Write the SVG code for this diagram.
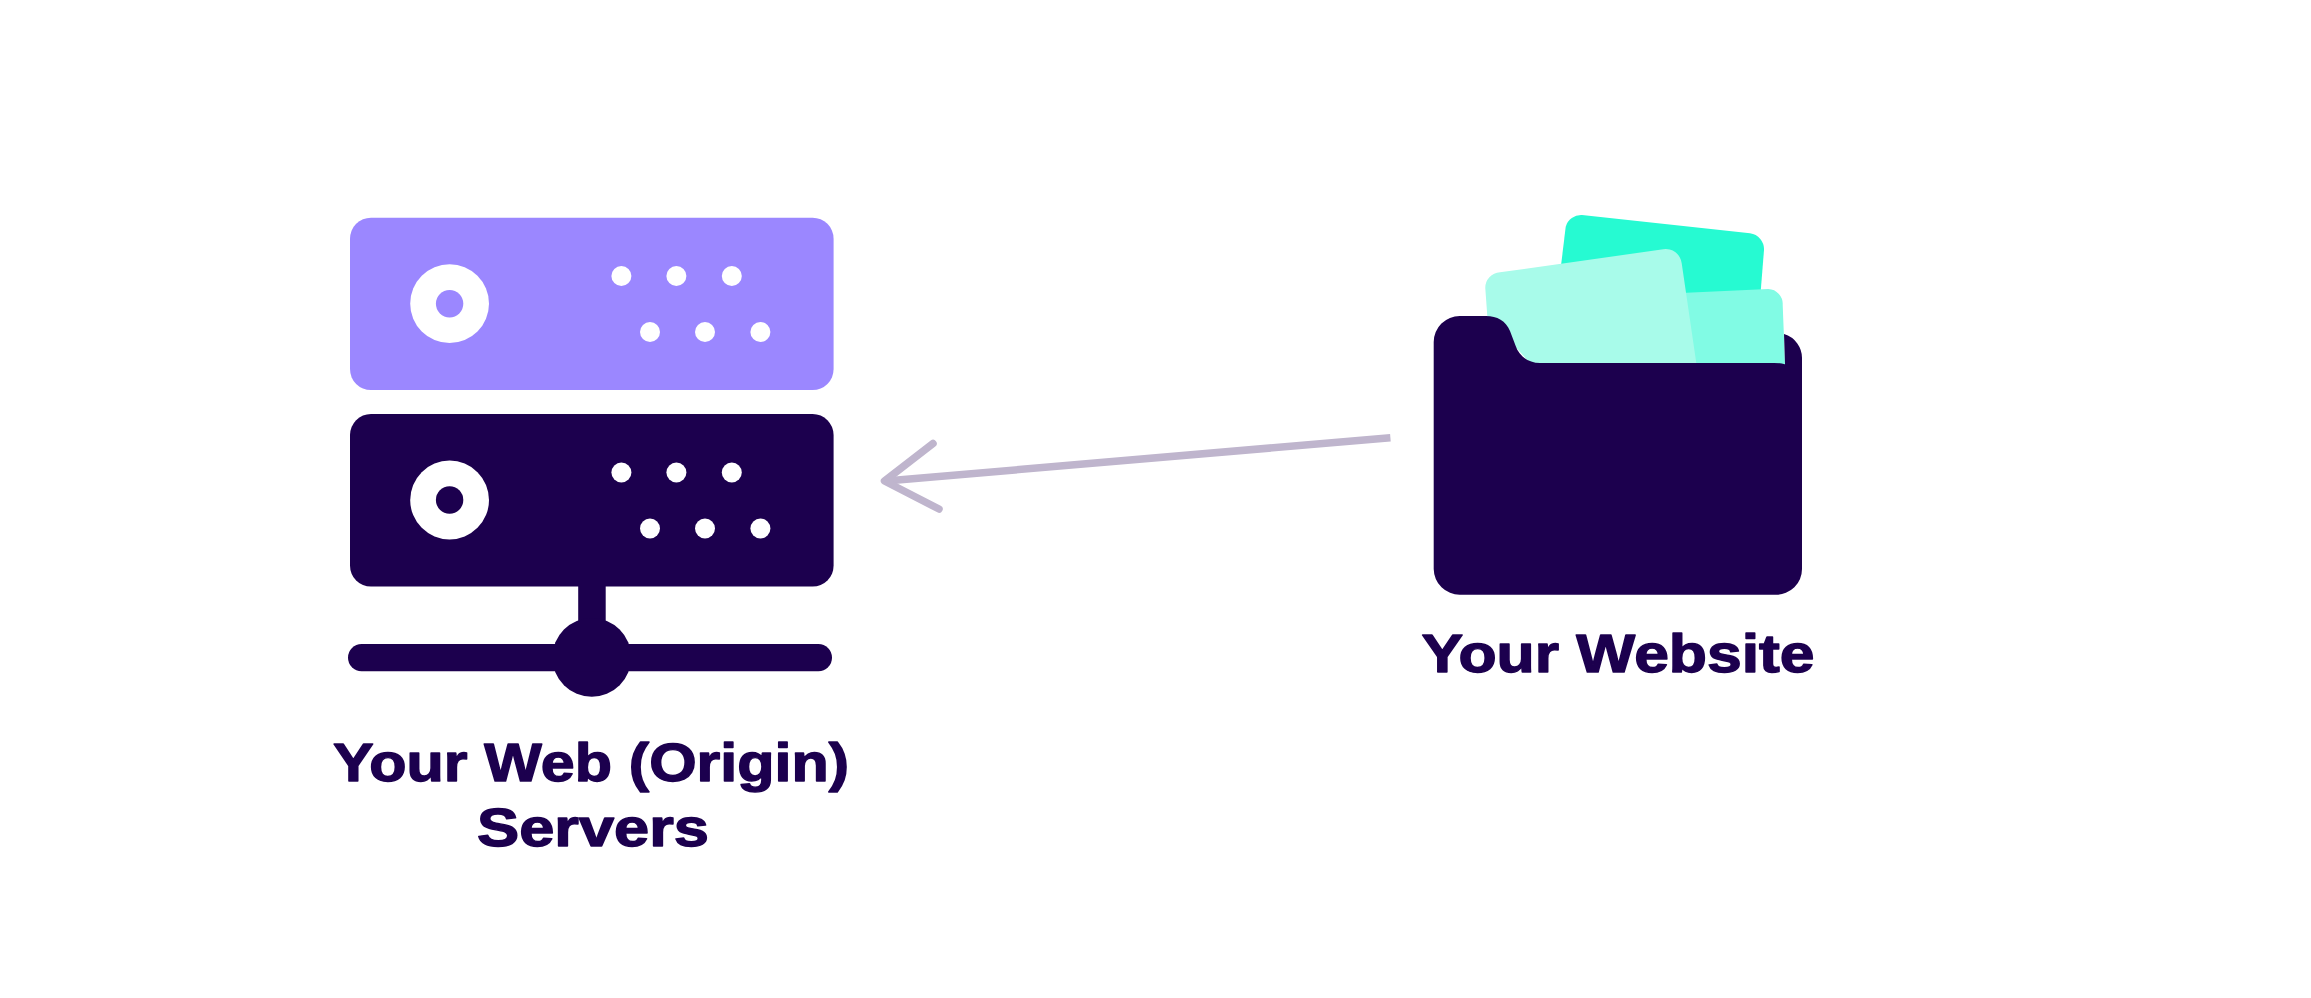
<svg xmlns="http://www.w3.org/2000/svg" width="2311" height="998" viewBox="0 0 2311 998">
<style>
.dark{fill:#1c004e}
.w{fill:#fff}
.lbl{font-family:"Liberation Sans","Arimo",sans-serif;font-weight:700;font-size:53px;fill:#1c004e;stroke:#1c004e;stroke-width:1.4px;stroke-linejoin:round}
.arrow{fill:none;stroke:#bfb5cd;stroke-width:7.5}
.head{fill:none;stroke:#bfb5cd;stroke-width:7.5;stroke-linecap:round;stroke-linejoin:round}
</style>
<defs>
<g id="dots" class="w">
<circle cx="621.4" cy="0" r="10"/><circle cx="676.4" cy="0" r="10"/><circle cx="731.8" cy="0" r="10"/>
<circle cx="650" cy="56" r="10"/><circle cx="705" cy="56" r="10"/><circle cx="760.4" cy="56" r="10"/>
</g>
</defs>
<rect width="2311" height="998" fill="#fff"/>
<g id="origin-servers">
<rect x="350" y="217.7" width="483.6" height="172.4" rx="21" fill="#9b87ff"/>
<circle cx="449.6" cy="303.7" r="39.4" class="w"/>
<circle cx="449.6" cy="303.7" r="13.7" fill="#9b87ff"/>
<use href="#dots" y="276"/>
<rect x="350" y="414" width="483.6" height="172.6" rx="21" class="dark"/>
<circle cx="449.6" cy="500" r="39.4" class="w"/>
<circle cx="449.6" cy="500" r="13.7" class="dark"/>
<use href="#dots" y="472.5"/>
<rect x="578.2" y="585" width="27.5" height="45" class="dark"/>
<circle cx="591.8" cy="657.4" r="39.4" class="dark"/>
<rect x="348" y="644" width="484" height="27.3" rx="13.6" class="dark"/>
<text class="lbl" x="333" y="781" textLength="516" lengthAdjust="spacingAndGlyphs">Your Web (Origin)</text>
<text class="lbl" x="477" y="846" textLength="232" lengthAdjust="spacingAndGlyphs" style="font-kerning:none">Servers</text>
</g>
<g id="website">
<path d="M1561.3 263.3L1565.7 226.7A16 16 0 0 1 1582 215L1750 233.3A16 16 0 0 1 1764 250L1760 300L1561 300Z" fill="#26fad2"/>
<path d="M1670 293.4L1768.3 289A15 15 0 0 1 1782.7 305L1785 364L1670 363Z" fill="#81fbe4"/>
<path d="M1487.3 316L1485.3 288.3A15.5 15.5 0 0 1 1500 272.3L1663.3 249.3A16 16 0 0 1 1681.7 263.3L1696.3 363L1530 363L1500 330Z" fill="#a8fbea"/>
<path d="M1784 334A25 25 0 0 1 1802 359L1802 569A25.7 25.7 0 0 1 1776 594.7L1460 594.7A26 26 0 0 1 1433.7 569L1433.7 342A26 26 0 0 1 1460 316L1486 316C1497 316 1506 321 1510 331L1515.5 345.5C1519 356 1528 363 1540 363L1774 363Q1781 363 1785 364.3Z" class="dark"/>
<text class="lbl" x="1421.5" y="671.7" textLength="393" lengthAdjust="spacingAndGlyphs">Your Website</text>
</g>
<g id="connectors">
<path class="arrow" d="M1390.4 437.7L886 481"/>
<path class="head" d="M933 443.5L884.5 481L939 509"/>
</g>
</svg>
